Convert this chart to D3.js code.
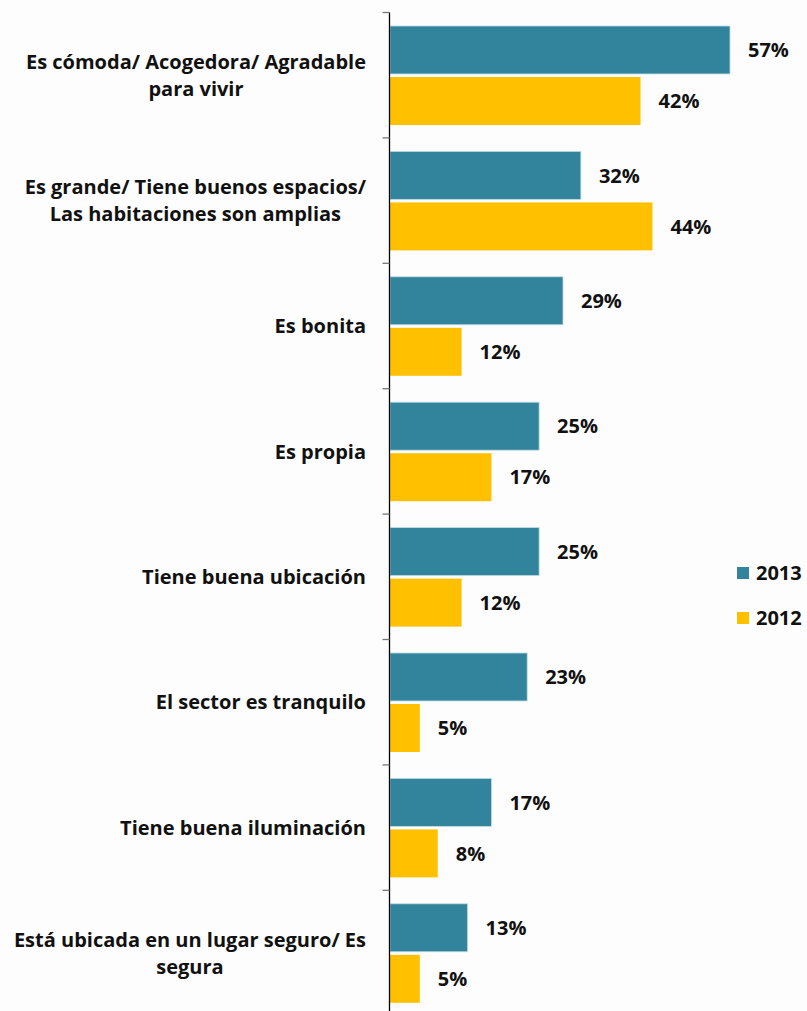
<!DOCTYPE html>
<html>
<head>
<meta charset="utf-8">
<script src="https://cdn.jsdelivr.net/npm/d3@7"></script>
<style>
  html, body { margin: 0; padding: 0; background: #fdfdfd; }
  svg { display: block; }
</style>
</head>
<body>
<div id="chart"></div>
<script>
// data
const categories = [
  ['Es cómoda/ Acogedora/ Agradable', 'para vivir'],
  ['Es grande/ Tiene buenos espacios/', 'Las habitaciones son amplias'],
  ['Es bonita'],
  ['Es propia'],
  ['Tiene buena ubicación'],
  ['El sector es tranquilo'],
  ['Tiene buena iluminación'],
  ['Está ubicada en un lugar seguro/ Es', 'segura'],
];
const series = ['2013', '2012'];
const values2013 = [57, 32, 29, 25, 25, 23, 17, 13];
const values2012 = [42, 44, 12, 17, 12, 5, 8, 5];

const COLORS = { '2013': '#31849b', '2012': '#ffc000' };
const FONT = '"Open Sans", Lato, sans-serif';
const FS = 20;

const W = 807, H = 1011;
const AXIS_X = 390;
const TOP = 12.5;
const STEP = 125.4;

const svg = d3.select('#chart').append('svg')
  .attr('width', W)
  .attr('height', H);

const y = d3.scaleBand()
  .domain(d3.range(categories.length))
  .range([TOP, TOP + STEP * categories.length])
  .paddingInner(0)
  .paddingOuter(0);

const x = d3.scaleLinear().domain([0, 57]).range([AXIS_X, 730]);

const inner = d3.scaleBand()
  .domain(series)
  .range([13.5, 13.5 + 99])
  .paddingInner(0.06);

const rows = categories.map((c, i) => ({ i, label: c, v: { '2013': values2013[i], '2012': values2012[i] } }));

const row = svg.selectAll('g.row')
  .data(rows)
  .join('g')
  .attr('class', 'row')
  .attr('transform', d => `translate(0,${y(d.i)})`);

series.forEach(s => {
  row.append('rect')
    .attr('x', x(0))
    .attr('y', inner(s))
    .attr('width', d => x(d.v[s]) - x(0))
    .attr('height', inner.bandwidth())
    .attr('fill', COLORS[s])
    .attr('stroke', s === '2013' ? '#bfdbe3' : 'none')
    .attr('stroke-width', 0.8);

  row.append('text')
    .attr('x', d => x(d.v[s]) + 18)
    .attr('y', inner(s) + inner.bandwidth() / 2)
    .attr('dy', '0.36em')
    .attr('font-family', FONT)
    .attr('font-weight', 700)
    .attr('font-size', FS)
    .attr('fill', '#111')
    .text(d => d.v[s] + '%');
});

// category labels: lines centred, block right-aligned to the axis
const LABEL_RIGHT = 366;
const LINE_H = 27;
row.each(function (d) {
  const g = d3.select(this);
  const t = g.append('text')
    .attr('font-family', FONT)
    .attr('font-weight', 700)
    .attr('font-size', FS)
    .attr('fill', '#111')
    .attr('text-anchor', 'middle');
  const n = d.label.length;
  d.label.forEach((line, k) => {
    t.append('tspan')
      .attr('y', y.bandwidth() / 2 + (k - (n - 1) / 2) * LINE_H)
      .attr('dy', '0.36em')
      .text(line);
  });
  let maxW = 0;
  t.selectAll('tspan').each(function () {
    maxW = Math.max(maxW, this.getComputedTextLength());
  });
  t.selectAll('tspan').attr('x', LABEL_RIGHT - maxW / 2);
});

// axis line with ticks at category boundaries
const axisG = svg.append('g')
  .attr('transform', `translate(${AXIS_X - 0.5},0)`);
axisG.append('line')
  .attr('x1', 0).attr('x2', 0)
  .attr('y1', TOP).attr('y2', H)
  .attr('stroke', '#000')
  .attr('stroke-width', 1.3);
axisG.selectAll('line.tick-b')
  .data(d3.range(categories.length))
  .join('line')
  .attr('class', 'tick-b')
  .attr('x1', -7).attr('x2', 0)
  .attr('y1', d => y(d)).attr('y2', d => y(d))
  .attr('stroke', '#777')
  .attr('stroke-width', 1.3);

// legend
const legend = svg.append('g').attr('transform', 'translate(737,0)');
const legendY = d3.scalePoint().domain(series).range([573, 618]);
series.forEach(s => {
  legend.append('rect')
    .attr('x', 0)
    .attr('y', legendY(s) - 6)
    .attr('width', 12)
    .attr('height', 12)
    .attr('fill', COLORS[s]);
  legend.append('text')
    .attr('x', 19)
    .attr('y', legendY(s))
    .attr('dy', '0.36em')
    .attr('font-family', FONT)
    .attr('font-weight', 700)
    .attr('font-size', FS)
    .attr('fill', '#111')
    .text(s);
});
</script>
</body>
</html>
